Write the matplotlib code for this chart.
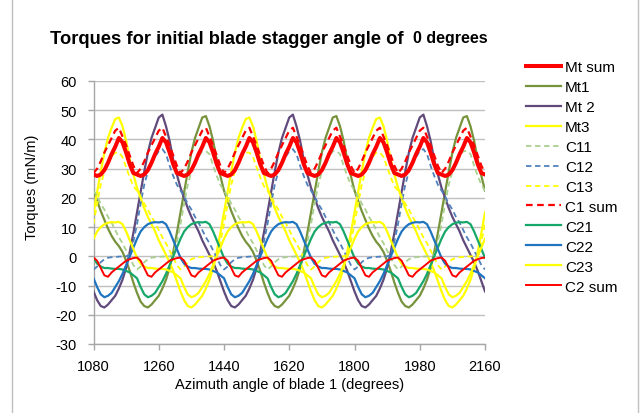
import numpy as np
import matplotlib
matplotlib.use("Agg")
import matplotlib.pyplot as plt
from matplotlib.lines import Line2D

plt.rcParams['font.family'] = ['Liberation Sans', 'DejaVu Sans']
plt.rcParams['axes.unicode_minus'] = False

# Azimuth sampling (degrees)
x_start, x_end, x_step = 1080, 2160, 10

# One 360-degree cycle per blade series, read every 10 deg starting at 1080
mt1_cycle = [22.5, 19, 15.5, 12.5, 9.5, 7, 5, 3.5, 1.5, -1.5, -5, -9, -12.5, -15.5, -17, -17.5, -16.5, -15,
             -13.5, -11, -8, -4, 1.5, 8, 15, 22, 29, 35.5, 40.5, 44, 47.5, 48, 44.5, 39.5, 33, 27.5]
mt2_cycle = [-12, -15, -17, -17.5, -16.5, -15, -13.5, -11, -8, -4, 1.5, 8, 15, 22, 29, 35.5, 40.5, 44,
             47.5, 48.5, 44.5, 39.5, 33, 28, 23.5, 20, 16.5, 13.5, 11, 8.5, 5.5, 3, 0.5, -2, -5, -8.5]
mt3_cycle = [15, 22, 29, 35.5, 40.5, 44, 47, 47.5, 44.5, 39.5, 33, 28, 23.5, 20, 16.5, 13.5, 11, 8.5,
             5.5, 3, 0.5, -2, -5, -8.5, -12, -15, -17, -17.5, -16.5, -15, -13.5, -11, -8, -4, 1.5, 8]
c11_cycle = [22.5, 20.5, 18, 16, 13.5, 11.5, 9, 6.5, 4.5, 2, -0.5, -3, -4.5, -3.5, -2, -1, -0.5, -0.3,
             -0.2, -0.1, 0, 0, 0.5, 5, 11, 18, 24.5, 29, 32, 34, 36, 36, 35, 31, 27.5, 24.5]
c12_cycle = [-4.5, -3.5, -2, -1, -0.5, -0.3, -0.2, -0.1, 0, 0, 0.5, 5, 11, 18, 24.5, 29, 32, 34,
             36, 36.7, 35, 31, 27.5, 24.5, 22.5, 20.5, 18, 16, 13.5, 11.5, 9, 6.5, 4.5, 2, -0.5, -3]
c13_cycle = [11, 18, 24.5, 29, 32, 34, 35.5, 35.5, 34, 30.5, 27, 24, 22.5, 20.5, 18, 16, 13.5, 11.5,
             9, 6.5, 4.5, 2, -0.5, -3, -4.5, -3.5, -2, -1, -0.5, -0.3, -0.2, -0.1, 0, 0, 0.5, 5]
c21_cycle = [-0.5, -2.5, -3.5, -4, -4, -4.2, -4.3, -4.3, -4.5, -5, -5.5, -6.5, -7.5, -10.5, -13, -14,
             -13.5, -12.5, -10.5, -8.5, -6, -3, 0, 3, 6, 8.5, 10, 11, 11.5, 11.7, 11.6, 11.8, 11, 8.5, 5.5, 2.5]
c22_cycle = [-7.5, -10.5, -13, -14, -13.5, -12.5, -10.5, -8.5, -6, -3, 0, 3, 6, 8.5, 10, 11, 11.5, 11.7,
             11.6, 11.8, 11, 8.5, 5.5, 2.5, -0.5, -2.5, -3.5, -4, -4, -4.2, -4.3, -4.3, -4.5, -5, -5.5, -6.5]
c23_cycle = [6, 8.5, 10, 11, 11.5, 11.7, 11.6, 11.8, 11, 8.5, 5.5, 2.5, -0.5, -2.5, -3.5, -4, -4, -4.2,
             -4.3, -4.3, -4.5, -5, -5.5, -6.5, -7.5, -10.5, -13, -14, -13.5, -12.5, -10.5, -8.5, -6, -3, 0, 3]

# One 120-degree cycle for the summed series, read every 10 deg starting at 1080
mt_sum_cycle = [28, 27.5, 28, 29.5, 32, 35, 37.5, 40.5, 39, 35.5, 31.5, 28.5]
c1_sum_cycle = [28.5, 30, 32.5, 35.5, 38, 40.5, 43, 44, 41, 38, 34.5, 31]
c2_sum_cycle = [-0.4, -1.5, -4, -6.5, -7, -5.5, -4.5, -3.5, -2.5, -1.5, -1, -0.6]

labels = ['Mt sum', 'Mt1', 'Mt 2', 'Mt3', 'C11', 'C12', 'C13', 'C1 sum', 'C21', 'C22', 'C23', 'C2 sum']
x_ticks = [1080, 1260, 1440, 1620, 1800, 1980, 2160]
y_ticks = [-30, -20, -10, 0, 10, 20, 30, 40, 50, 60]

azimuth = np.arange(x_start, x_end + 1, x_step)
n_pts = len(azimuth)


def expand(cycle):
    reps = int(np.ceil(n_pts / len(cycle)))
    return np.array(list(cycle) * reps)[:n_pts]


series = [mt_sum_cycle, mt1_cycle, mt2_cycle, mt3_cycle, c11_cycle, c12_cycle, c13_cycle,
          c1_sum_cycle, c21_cycle, c22_cycle, c23_cycle, c2_sum_cycle]
styles = [
    dict(color='#FF0000', lw=2.9, ls='-', z=12),
    dict(color='#77933C', lw=1.6, ls='-', z=3),
    dict(color='#604A7B', lw=1.6, ls='-', z=4),
    dict(color='#FFFF00', lw=1.6, ls='-', z=5),
    dict(color='#A9D08E', lw=1.3, ls=(0, (3, 2)), z=6),
    dict(color='#4F81BD', lw=1.3, ls=(0, (3, 2)), z=7),
    dict(color='#FFFF00', lw=1.3, ls=(0, (3, 2)), z=8),
    dict(color='#FF0000', lw=1.6, ls=(0, (3, 2)), z=9),
    dict(color='#16A86A', lw=1.6, ls='-', z=10),
    dict(color='#1F75C0', lw=1.6, ls='-', z=10),
    dict(color='#FFFF00', lw=1.6, ls='-', z=10),
    dict(color='#FF0000', lw=1.4, ls='-', z=11),
]

fig = plt.figure(figsize=(6.44, 4.14), dpi=100)
ax = fig.add_axes([93.5 / 644, 1 - 345 / 414, (485 - 93.5) / 644, (345 - 82) / 414])

handles = []
for cyc, st, lab in zip(series, styles, labels):
    h, = ax.plot(azimuth, expand(cyc), color=st['color'], lw=st['lw'], ls=st['ls'],
                 zorder=st['z'], label=lab)
    handles.append(h)

ax.set_xlim(1080, 2160)
ax.set_ylim(-30, 60)
ax.set_xticks(x_ticks)
ax.set_yticks(y_ticks)
ax.grid(axis='y', color='#BFBFBF', lw=1.0)
ax.set_axisbelow(True)
for s in ['top', 'right']:
    ax.spines[s].set_visible(False)
for s in ['left', 'bottom']:
    ax.spines[s].set_color('#A6A6A6')
    ax.spines[s].set_linewidth(1.0)
ax.tick_params(axis='both', colors='#A6A6A6', length=4, width=1.0, labelsize=10.5, labelcolor='black')
ax.tick_params(axis='y', pad=8)
ax.tick_params(axis='x', pad=7)
ax.set_xlabel('Azimuth angle of blade 1 (degrees)', fontsize=10.5, labelpad=3)
ax.set_ylabel('Torques (mN/m)', fontsize=10.5)
ax.yaxis.set_label_coords(-0.14, 0.6)

fig.text(50 / 644, 1 - 39 / 414, 'Torques for initial blade stagger angle of', fontsize=13.2,
         fontweight='bold', ha='left', va='center')
fig.text(413 / 644, 1 - 39 / 414, '0 degrees', fontsize=11.5, fontweight='bold', ha='left', va='center')

# chart-area frame edges
for xe in (12.5, 637.5):
    fig.add_artist(Line2D([xe / 644, xe / 644], [0, 1], transform=fig.transFigure,
                          color='#BFBFBF', lw=1.0))

leg = fig.legend(handles=handles, loc='upper left', bbox_to_anchor=(520 / 644, 1 - 55 / 414),
                 frameon=False, fontsize=11, handlelength=2.3, handletextpad=0.25, labelspacing=0.39,
                 borderaxespad=0)

fig.savefig('out.png', dpi=100)
